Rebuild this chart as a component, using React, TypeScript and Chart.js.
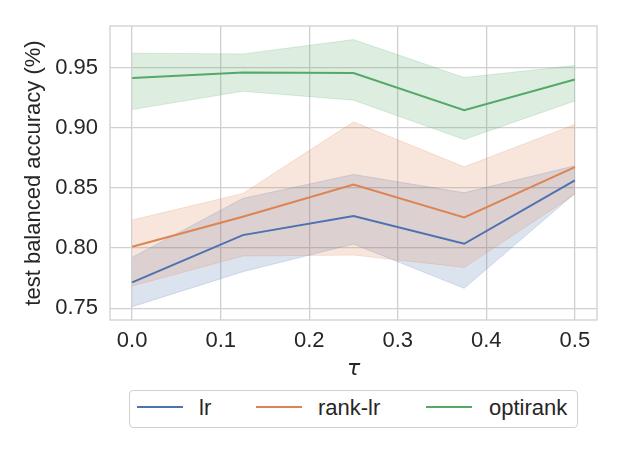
import React, { useEffect, useRef } from 'react';
import { Chart, registerables } from 'chart.js';

Chart.register(...registerables);

// tau values on the x axis
const taus = [0, 0.125, 0.25, 0.375, 0.5];

// lr
const lrMean = [0.7716, 0.8108, 0.8266, 0.8036, 0.8562];
const lrLow = [0.7513, 0.7804, 0.8034, 0.7666, 0.8454];
const lrHigh = [0.7923, 0.8413, 0.8612, 0.846, 0.8684];

// rank-lr
const rankMean = [0.8011, 0.826, 0.8529, 0.8255, 0.8673];
const rankLow = [0.7685, 0.7934, 0.7942, 0.784, 0.8446];
const rankHigh = [0.8233, 0.8454, 0.9049, 0.8675, 0.9027];

// optirank
const optiMean = [0.9414, 0.9458, 0.9455, 0.9146, 0.94];
const optiLow = [0.9151, 0.9303, 0.9229, 0.8902, 0.9223];
const optiHigh = [0.9619, 0.9613, 0.9732, 0.9417, 0.9517];

const xTicks = [0, 0.1, 0.2, 0.3, 0.4, 0.5];
const xTickLabels = ['0.0', '0.1', '0.2', '0.3', '0.4', '0.5'];
const yTicks = [0.75, 0.8, 0.85, 0.9, 0.95];
const yTickLabels = ['0.75', '0.80', '0.85', '0.90', '0.95'];

const seriesNames = ['lr', 'rank-lr', 'optirank'];
const colors = ['#4c72b0', '#dd8452', '#55a868'];
const bands = ['rgba(76,114,176,0.2)', 'rgba(221,132,82,0.2)', 'rgba(85,168,104,0.2)'];

const FONT = '"Liberation Sans", Arial, sans-serif';
const TEXT = '#262626';
const GRID = '#d0d0d0';

const pts = (ys: number[]) => ys.map((y, i) => ({ x: taus[i], y }));

const frame = {
  id: 'frame',
  afterDatasetsDraw(chart: any) {
    const { ctx, chartArea: a } = chart;
    ctx.save();
    ctx.strokeStyle = GRID;
    ctx.lineWidth = 1.3;
    ctx.strokeRect(a.left, a.top, a.right - a.left, a.bottom - a.top);
    ctx.restore();
  },
};

export default function App() {
  const canvasRef = useRef<HTMLCanvasElement>(null);

  useEffect(() => {
    if (!canvasRef.current) return;
    const means = [lrMean, rankMean, optiMean];
    const lows = [lrLow, rankLow, optiLow];
    const highs = [lrHigh, rankHigh, optiHigh];
    const bandSets: any[] = [];
    const lineSets: any[] = [];
    means.forEach((m, k) => {
      const bandOrder = 3 - k;
      bandSets.push({
        label: seriesNames[k] + ' low',
        data: pts(lows[k]),
        borderColor: bands[k],
        borderWidth: 1,
        pointRadius: 0,
        fill: false,
        order: bandOrder,
      });
      bandSets.push({
        label: seriesNames[k] + ' high',
        data: pts(highs[k]),
        borderColor: bands[k],
        backgroundColor: bands[k],
        borderWidth: 1,
        pointRadius: 0,
        fill: '-1',
        order: bandOrder,
      });
      lineSets.push({
        label: seriesNames[k],
        data: pts(m),
        borderColor: colors[k],
        borderWidth: 2,
        pointRadius: 0,
        fill: false,
        order: -1 - k,
      });
    });

    const chart = new Chart(canvasRef.current, {
      type: 'line',
      data: { datasets: [...bandSets, ...lineSets] },
      options: {
        animation: false,
        responsive: false,
        layout: { padding: { top: 26, right: 26, bottom: 67, left: 0 } },
        elements: { line: { tension: 0 } },
        plugins: {
          legend: { display: false },
          tooltip: { enabled: false },
          filler: { drawTime: 'beforeDatasetsDraw' },
        } as any,
        scales: {
          x: {
            type: 'linear',
            min: -0.025,
            max: 0.525,
            afterBuildTicks: (s: any) => { s.ticks = xTicks.map((v) => ({ value: v })); },
            afterFit: (s: any) => { s.height = 80; },
            ticks: {
              color: TEXT,
              font: { family: FONT, size: 22 },
              padding: 8,
              maxRotation: 0,
              autoSkip: false,
              callback: (_v: any, i: number) => xTickLabels[i],
            },
            grid: { color: GRID, lineWidth: 1.3, drawTicks: false },
            border: { display: false },
            title: {
              display: true,
              text: 'τ',
              color: TEXT,
              font: { family: '"DejaVu Sans", sans-serif', size: 22, style: 'italic' },
              padding: { top: 0, bottom: 18 },
            },
          },
          y: {
            type: 'linear',
            min: 0.7403,
            max: 0.9845,
            afterBuildTicks: (s: any) => { s.ticks = yTicks.map((v) => ({ value: v })); },
            afterFit: (s: any) => { s.width = 110; },
            ticks: {
              color: TEXT,
              font: { family: FONT, size: 22 },
              padding: 12,
              autoSkip: false,
              callback: (_v: any, i: number) => yTickLabels[i],
            },
            grid: { color: GRID, lineWidth: 1.3, drawTicks: false },
            border: { display: false },
            title: {
              display: true,
              text: 'test balanced accuracy (%)',
              color: TEXT,
              font: { family: FONT, size: 22 },
              padding: { top: 21, bottom: 0 },
            },
          },
        },
      },
      plugins: [frame],
    });
    return () => chart.destroy();
  }, []);

  const legendItems = [
    { sample: 7, text: 69 },
    { sample: 126, text: 188 },
    { sample: 296, text: 359 },
  ];

  return (
    <div style={{ position: 'fixed', left: 0, top: 0, width: 623, height: 467, background: '#fff' }}>
      <canvas ref={canvasRef} width={623} height={467} />
      <div
        style={{
          position: 'absolute', left: 129, top: 390, width: 449, height: 38,
          border: '1px solid ' + GRID, borderRadius: 4, boxSizing: 'border-box',
          background: '#fff', fontFamily: FONT, fontSize: 22, color: TEXT,
        }}
      >
        {legendItems.map((it, k) => (
          <React.Fragment key={seriesNames[k]}>
            <div style={{ position: 'absolute', left: it.sample, top: 15, width: 46, height: 2, background: colors[k] }} />
            <span style={{ position: 'absolute', left: it.text, top: 4, lineHeight: '26px', whiteSpace: 'nowrap' }}>
              {seriesNames[k]}
            </span>
          </React.Fragment>
        ))}
      </div>
    </div>
  );
}
